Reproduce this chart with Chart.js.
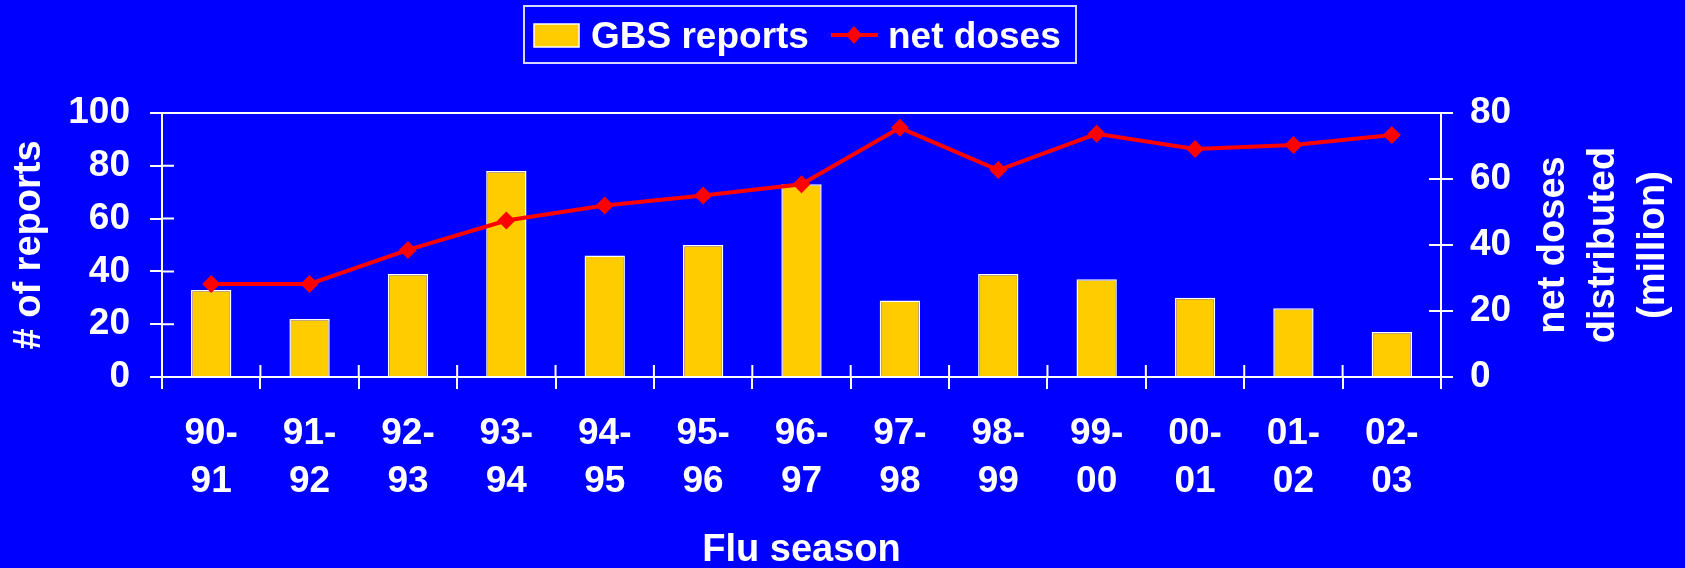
<!DOCTYPE html>
<html>
<head>
<meta charset="utf-8">
<script src="https://cdn.jsdelivr.net/npm/chart.js@4.4.1/dist/chart.umd.min.js"></script>
<style>
  html, body { margin: 0; padding: 0; background: #0000ff; }
  canvas { display: block; }
</style>
</head>
<body>
<canvas id="chart" width="1685" height="568"></canvas>
<script>
// data
const seasons = [['90-','91'],['91-','92'],['92-','93'],['93-','94'],['94-','95'],['95-','96'],
                 ['96-','97'],['97-','98'],['98-','99'],['99-','00'],['00-','01'],['01-','02'],['02-','03']];
const gbsReports = [33, 22, 39, 78, 46, 50, 73, 29, 39, 37, 30, 26, 17];
const netDoses = [28.2, 28.2, 38.5, 47.4, 52.0, 55.0, 58.4, 75.5, 62.7, 73.7, 69.1, 70.3, 73.3];
const reportsMax = 100, reportsStep = 20;
const dosesMax = 80, dosesStep = 20;
const rightTitle = ['net doses', 'distributed', '(million)'];

const FONT = '"Liberation Sans", Arial, sans-serif';
const BLUE = '#0000ff', GOLD = '#ffcc00', RED = '#ff0000', WHITE = '#ffffff';
const TICK = 12;

// inner halves of the tick marks, the right-hand title and the boxed legend
const extras = {
  id: 'extras',
  afterDraw(chart) {
    const { ctx, chartArea: a, scales } = chart;
    ctx.save();
    ctx.strokeStyle = WHITE;
    ctx.lineWidth = 2;
    ctx.beginPath();
    scales.y.ticks.forEach((t, i) => {
      const y = scales.y.getPixelForTick(i);
      ctx.moveTo(a.left, y); ctx.lineTo(a.left + TICK, y);
    });
    scales.y1.ticks.forEach((t, i) => {
      const y = scales.y1.getPixelForTick(i);
      ctx.moveTo(a.right, y); ctx.lineTo(a.right - TICK, y);
    });
    for (let i = 0; i <= seasons.length; i++) {
      const x = scales.x.getPixelForValue(i - 0.5);
      ctx.moveTo(x, a.bottom); ctx.lineTo(x, a.bottom - TICK);
    }
    ctx.stroke();

    // right axis title, reading bottom to top
    ctx.fillStyle = WHITE;
    ctx.font = 'bold 38px ' + FONT;
    ctx.textAlign = 'center';
    ctx.textBaseline = 'alphabetic';
    const cy = (a.top + a.bottom) / 2;
    rightTitle.forEach((line, i) => {
      ctx.save();
      ctx.translate(a.right + 123 + i * 50, cy);
      ctx.rotate(-Math.PI / 2);
      ctx.fillText(line, 0, 0);
      ctx.restore();
    });

    // legend
    const bar = chart.data.datasets[1], line = chart.data.datasets[0];
    ctx.lineWidth = 2;
    ctx.strokeStyle = '#d8d8ff';
    ctx.strokeRect(524, 6, 552, 57);
    ctx.fillStyle = bar.backgroundColor;
    ctx.fillRect(534, 24, 45, 23);
    ctx.lineWidth = 1.5;
    ctx.strokeStyle = WHITE;
    ctx.strokeRect(534, 24, 45, 23);
    ctx.fillStyle = WHITE;
    ctx.font = 'bold 37px ' + FONT;
    ctx.textAlign = 'left';
    ctx.fillText(bar.label, 591, 48);
    ctx.strokeStyle = line.borderColor;
    ctx.lineWidth = 4;
    ctx.beginPath(); ctx.moveTo(831, 35); ctx.lineTo(878, 35); ctx.stroke();
    ctx.fillStyle = line.borderColor;
    ctx.beginPath();
    ctx.moveTo(854, 26); ctx.lineTo(862, 35); ctx.lineTo(854, 44); ctx.lineTo(846, 35);
    ctx.closePath(); ctx.fill();
    ctx.fillStyle = WHITE;
    ctx.fillText(line.label, 888, 48);
    ctx.restore();
  }
};

new Chart(document.getElementById('chart'), {
  data: {
    labels: seasons,
    datasets: [
      {
        type: 'line',
        label: 'net doses',
        data: netDoses,
        yAxisID: 'y1',
        borderColor: RED,
        backgroundColor: RED,
        borderWidth: 4,
        pointStyle: 'rectRot',
        pointRadius: 9,
        pointBorderWidth: 0,
        tension: 0,
        order: 1
      },
      {
        type: 'bar',
        label: 'GBS reports',
        data: gbsReports,
        yAxisID: 'y',
        backgroundColor: GOLD,
        borderColor: WHITE,
        borderWidth: 1.5,
        categoryPercentage: 1,
        barPercentage: 0.41,
        order: 2
      }
    ]
  },
  options: {
    responsive: false,
    devicePixelRatio: 1,
    animation: false,
    layout: { padding: { top: 113, left: 0, right: 0, bottom: 0 } },
    plugins: { legend: { display: false }, tooltip: { enabled: false } },
    scales: {
      x: {
        offset: true,
        afterFit(scale) { scale.height = 191; },
        border: { display: true, color: WHITE, width: 2 },
        grid: { offset: true, drawOnChartArea: false, color: WHITE, tickColor: WHITE, tickLength: TICK, lineWidth: 2 },
        ticks: { color: WHITE, padding: 20, maxRotation: 0, font: { family: FONT, size: 37, weight: 'bold', lineHeight: 1.32 } },
        title: { display: true, text: 'Flu season', color: WHITE, padding: { top: 0, bottom: 0 },
                 font: { family: FONT, size: 38, weight: 'bold', lineHeight: 0.9 } }
      },
      y: {
        position: 'left',
        min: 0, max: reportsMax,
        afterFit(scale) { scale.width = 162; },
        border: { display: true, color: WHITE, width: 2 },
        grid: {
          drawOnChartArea: true,
          color: ctx => (ctx.tick && ctx.tick.value === reportsMax) ? WHITE : 'rgba(0,0,0,0)',
          tickColor: WHITE, tickLength: TICK, lineWidth: 2
        },
        ticks: { stepSize: reportsStep, color: WHITE, padding: 20, font: { family: FONT, size: 37, weight: 'bold' } },
        title: { display: true, text: '# of reports', color: WHITE, padding: { top: 7, bottom: 0 },
                 font: { family: FONT, size: 38, weight: 'bold', lineHeight: 1.2 } }
      },
      y1: {
        position: 'right',
        min: 0, max: dosesMax,
        afterFit(scale) { scale.width = 244; },
        border: { display: true, color: WHITE, width: 2 },
        grid: { drawOnChartArea: false, color: WHITE, tickColor: WHITE, tickLength: TICK, lineWidth: 2 },
        ticks: { stepSize: dosesStep, color: WHITE, padding: 17, font: { family: FONT, size: 37, weight: 'bold' } }
      }
    }
  },
  plugins: [extras]
});
</script>
</body>
</html>
